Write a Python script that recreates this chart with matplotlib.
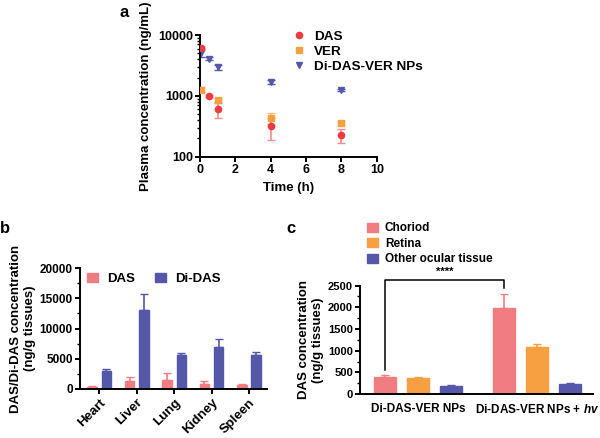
import numpy as np
import matplotlib
matplotlib.use('Agg')
import matplotlib.pyplot as plt
from matplotlib.ticker import LogLocator, NullFormatter, MultipleLocator

plt.rcParams['font.family'] = ['Liberation Sans', 'DejaVu Sans']
plt.rcParams['font.weight'] = 'bold'
plt.rcParams['axes.labelweight'] = 'bold'
plt.rcParams['mathtext.fontset'] = 'custom'
plt.rcParams['mathtext.it'] = 'Liberation Sans:bold:italic'
plt.rcParams['axes.linewidth'] = 1.4
plt.rcParams['xtick.major.width'] = 1.4
plt.rcParams['ytick.major.width'] = 1.4
plt.rcParams['ytick.minor.width'] = 1.0
plt.rcParams['xtick.major.size'] = 3.5
plt.rcParams['ytick.major.size'] = 3.5
plt.rcParams['ytick.minor.size'] = 2
plt.rcParams['xtick.major.pad'] = 2
plt.rcParams['ytick.major.pad'] = 1.5

# panel a: plasma pharmacokinetics
t_das = [0.083, 0.5, 1, 4, 8]
das_mean = [6200, 990, 600, 315, 228]
das_sd = [300, 40, 165, 125, 60]
t_ver = [0.083, 1, 4, 8]
ver_mean = [1270, 850, 436, 357]
ver_sd = [120, 70, 90, 25]
t_np = [0.083, 0.5, 1, 4, 8]
np_mean = [5000, 4100, 2960, 1700, 1245]
np_sd = [600, 200, 300, 120, 60]

# panel b: tissue distribution
organs = ['Heart', 'Liver', 'Lung', 'Kidney', 'Spleen']
b_das = [380, 1320, 1490, 880, 710]
b_das_err = [60, 610, 1100, 390, 120]
b_didas = [3030, 13000, 5560, 6890, 5670]
b_didas_err = [220, 2760, 440, 1430, 450]

# panel c: ocular tissue
groups = ['Di-DAS-VER NPs', 'Di-DAS-VER NPs + $hv$']
tissues = ['Choriod', 'Retina', 'Other ocular tissue']
c_vals = [[399, 1994], [383, 1081], [199, 232]]
c_err = [[38, 320], [16, 70], [16, 22]]

red = '#EE3B41'
orange = '#F6A041'
blue = '#5558A8'
pink = '#F17D82'

fig = plt.figure(figsize=(6, 4.38), dpi=100)

# ---- a ----
ax = fig.add_axes([0.333, 0.642, 0.295, 0.278])
ax.errorbar(t_das, das_mean, yerr=das_sd, fmt='none', ecolor='#F28D90',
            elinewidth=1.2, capsize=3, zorder=3)
ax.errorbar(t_ver, ver_mean, yerr=ver_sd, fmt='none', ecolor='#F8B875',
            elinewidth=1.2, capsize=3, zorder=2)
ax.errorbar(t_np, np_mean, yerr=np_sd, fmt='none', ecolor=blue,
            elinewidth=1.2, capsize=3, zorder=1)
ax.plot(t_das, das_mean, 'o', color=red, ms=4.5, label='DAS', zorder=4)
ax.plot(t_ver, ver_mean, 's', color=orange, ms=4.5, label='VER', zorder=3)
ax.plot(t_np, np_mean, 'v', color=blue, ms=5, label='Di-DAS-VER NPs', zorder=2)
ax.set_yscale('log')
ax.set_ylim(100, 10000)
ax.set_xlim(0, 10)
ax.set_xticks([0, 2, 4, 6, 8, 10])
ax.yaxis.set_minor_locator(LogLocator(base=10, subs=np.arange(2, 10)))
ax.yaxis.set_minor_formatter(NullFormatter())
ax.set_yticks([100, 1000, 10000])
ax.set_yticklabels(['100', '1000', '10000'])
ax.tick_params(labelsize=9)
ax.set_xlabel('Time (h)', fontsize=9.5)
ax.set_ylabel('Plasma concentration (ng/mL)', fontsize=9.5)
for s in ['top', 'right']:
    ax.spines[s].set_visible(False)
ax.legend(loc='upper left', bbox_to_anchor=(0.487, 0.931),
          bbox_transform=fig.transFigure, frameon=False, borderpad=0,
          borderaxespad=0, fontsize=9.7, handlelength=1.0,
          handletextpad=0.6, labelspacing=0.2)
fig.text(0.2, 0.961, 'a', fontsize=12, fontweight='bold', va='baseline')

# ---- b ----
bx = fig.add_axes([0.133, 0.112, 0.312, 0.276])
xb = np.arange(len(organs))
bx.bar(xb - 0.19, b_das, 0.25, color=pink, edgecolor=pink, label='DAS')
bx.errorbar(xb - 0.19, b_das, yerr=[np.zeros(5), b_das_err], fmt='none',
            ecolor=pink, elinewidth=1.2, capsize=3)
bx.bar(xb + 0.19, b_didas, 0.25, color=blue, edgecolor=blue, label='Di-DAS')
bx.errorbar(xb + 0.19, b_didas, yerr=[np.zeros(5), b_didas_err], fmt='none',
            ecolor=blue, elinewidth=1.2, capsize=3)
bx.set_xlim(-0.52, 4.48)
bx.set_ylim(0, 20000)
bx.set_yticks([0, 5000, 10000, 15000, 20000])
bx.yaxis.set_minor_locator(MultipleLocator(2500))
bx.set_xticks(xb)
bx.set_xticklabels(organs, rotation=45, ha='right', rotation_mode='anchor')
bx.tick_params(labelsize=8.5)
bx.tick_params(axis='x', labelsize=9.5)
bx.set_ylabel('DAS/Di-DAS concentration\n(ng/g tissues)', fontsize=9.5,
              labelpad=3)
for s in ['top', 'right']:
    bx.spines[s].set_visible(False)
bx.legend(loc='upper left', ncol=2, frameon=False, fontsize=9.5,
          bbox_to_anchor=(0.145, 0.3776), bbox_transform=fig.transFigure,
          borderpad=0, borderaxespad=0, handlelength=0.8, handleheight=0.75,
          columnspacing=1.5, handletextpad=0.75)
fig.text(0.0, 0.468, 'b', fontsize=12, fontweight='bold', va='baseline')

# ---- c ----
cx = fig.add_axes([0.6, 0.100, 0.388, 0.248])
gx = np.array([0, 3.6])
ccolors = [pink, orange, blue]
for i in range(3):
    pos = gx + (i - 1)
    cx.bar(pos, c_vals[i], 0.67, color=ccolors[i], edgecolor=ccolors[i],
           label=tissues[i])
    cx.errorbar(pos, c_vals[i], yerr=[np.zeros(2), c_err[i]], fmt='none',
                ecolor=ccolors[i], elinewidth=1.2, capsize=3)
cx.set_xlim(-1.76, 5.3)
cx.set_ylim(0, 2500)
cx.set_yticks([0, 500, 1000, 1500, 2000, 2500])
cx.yaxis.set_minor_locator(MultipleLocator(250))
cx.set_xticks(gx)
cx.set_xticklabels(groups)
cx.tick_params(labelsize=8)
cx.tick_params(axis='x', length=0, labelsize=8.5, pad=6)
cx.set_ylabel('DAS concentration\n(ng/g tissues)', fontsize=9.5, labelpad=3)
for s in ['top', 'right']:
    cx.spines[s].set_visible(False)
# significance bracket
x1, x2 = gx[0] - 1, gx[1] - 1
cx.plot([x1, x1, x2, x2], [560, 2630, 2630, 2450], color='black', lw=1.1,
        clip_on=False)
cx.text((x1 + x2) / 2, 2690, '****', ha='center', va='bottom', fontsize=8)
cx.legend(loc='upper left', bbox_to_anchor=(0.612, 0.4924),
          bbox_transform=fig.transFigure, frameon=False, borderpad=0,
          borderaxespad=0, fontsize=8.5, handlelength=0.95,
          handleheight=0.8, labelspacing=0.3, handletextpad=0.55)
fig.text(0.478, 0.468, 'c', fontsize=12, fontweight='bold', va='baseline')

fig.savefig('out.png', dpi=100)
